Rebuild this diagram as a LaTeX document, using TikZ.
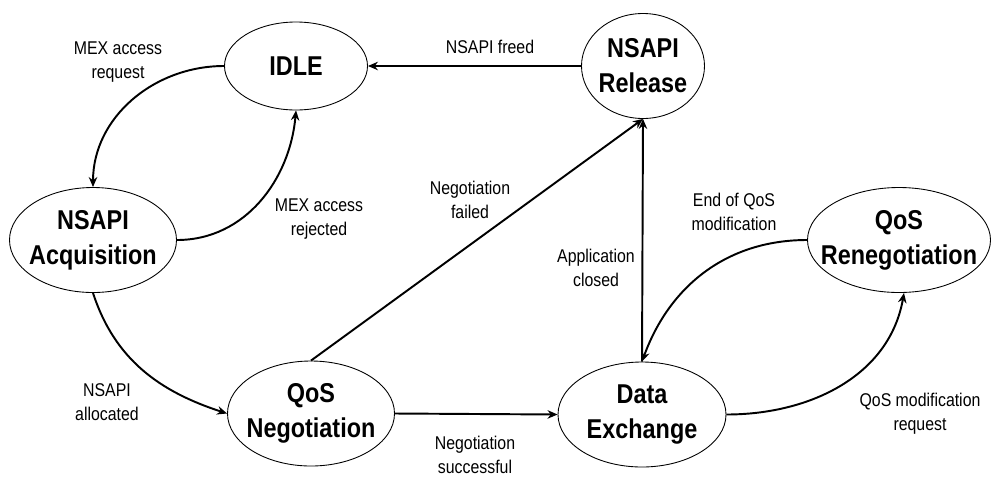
\documentclass[tikz,border=0pt]{standalone}
\usepackage{fontspec}
\setmainfont{Liberation Sans}[FakeStretch=0.86]
\usepackage{tikz}
\usetikzlibrary{arrows.meta,shapes.geometric}

\begin{document}
\begin{tikzpicture}[
  state/.style={draw, ellipse, line width=0.5pt, inner sep=0pt, inner xsep=-14pt,
              align=center, font=\fontsize{15.5}{20}\selectfont\bfseries},
  lbl/.style={align=center, font=\fontsize{10.5}{13.5}\selectfont},
  arrow/.style={-{Stealth[length=2mm, width=1.7mm]}, line width=1.1pt},
]
  \useasboundingbox (0,0) rectangle (19.98,-9.52);

  % States
  \node[state, minimum width=2.86cm, minimum height=1.76cm] (idle) at (5.92,-1.32) {IDLE};
  \node[state, minimum width=2.46cm, minimum height=2.1cm] (release) at (12.86,-1.32) {NSAPI\\Release};
  \node[state, minimum width=3.34cm, minimum height=2.1cm] (acq) at (1.86,-4.8) {NSAPI\\Acquisition};
  \node[state, minimum width=3.66cm, minimum height=2.1cm] (reneg) at (17.98,-4.8) {QoS\\Renegotiation};
  \node[state, minimum width=3.34cm, minimum height=2.1cm] (qosneg) at (6.22,-8.27) {QoS\\Negotiation};
  \node[state, minimum width=3.36cm, minimum height=2.1cm] (data) at (12.84,-8.29) {Data\\Exchange};

  % Transition labels
  \node[lbl] (lreq) at (2.36,-1.24) {MEX access\\request};
  \node[lbl] (lfreed) at (9.8,-0.94) {NSAPI freed};
  \node[lbl] (lrej) at (6.38,-4.38) {MEX access\\rejected};
  \node[lbl] (lfailed) at (9.4,-4.0) {Negotiation\\failed};
  \node[lbl] (lclosed) at (11.92,-5.36) {Application\\closed};
  \node[lbl] (lend) at (14.68,-4.24) {End of QoS\\modification};
  \node[lbl] (lalloc) at (2.14,-8.04) {NSAPI\\allocated};
  \node[lbl] (lsucc) at (9.5,-9.1) {Negotiation\\successful};
  \node[lbl] (lmodreq) at (18.4,-8.28) {QoS modification\\request};

  % Transitions
  \draw[arrow] (release.west) -- (idle.east);
  \draw[arrow] (idle.west) to[out=180, in=90] (acq.north);
  \draw[arrow] (acq.east) to[out=0, in=-95] (idle.south);
  \draw[arrow] (acq.south) to[out=-72, in=162] (qosneg.west);
  \draw[arrow] (qosneg.north) -- (release.south);
  \draw[arrow] (qosneg.east) -- (data.west);
  \draw[arrow] (data.north) -- (release.south);
  \draw[arrow] (data.east) to[out=0, in=-100] ([xshift=0.1cm]reneg.south);
  \draw[arrow] (reneg.west) to[out=180, in=70] (data.north);
\end{tikzpicture}
\end{document}
